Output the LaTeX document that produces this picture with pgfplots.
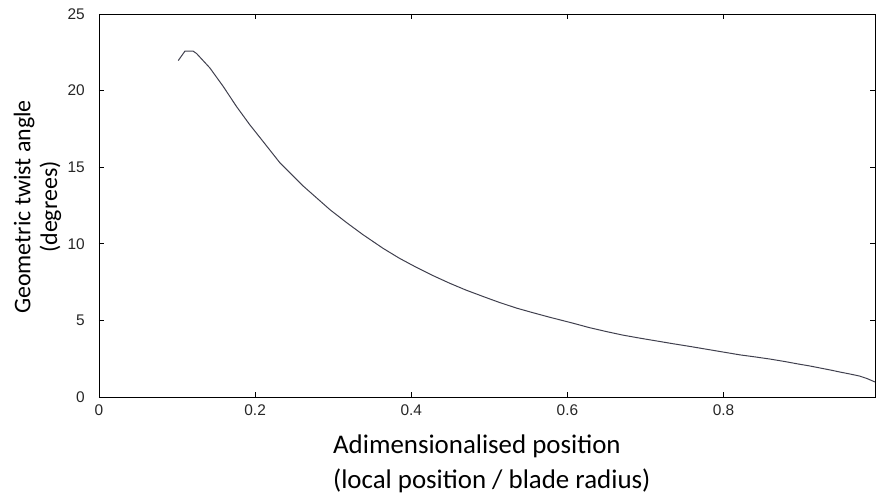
\documentclass[border=0pt]{standalone}
\usepackage{fontspec}
\setmainfont{Carlito}
\newfontfamily\arialfont{Liberation Sans}
\usepackage{pgfplots}
\pgfplotsset{compat=1.18}
\definecolor{curve}{HTML}{40404E}
\newcommand\tl[1]{\hbox{\arialfont\fontsize{15.5}{18}\selectfont #1}}
\begin{document}
\begin{tikzpicture}
\begin{axis}[
  at={(0,0)}, anchor=south west,
  scale only axis, width=776bp, height=383bp,
  xmin=0, xmax=0.994, ymin=0, ymax=25,
  xtick={0,0.2,0.4,0.6,0.8}, ytick={0,5,10,15,20,25},
  xticklabels={\tl{0},\tl{0.2},\tl{0.4},\tl{0.6},\tl{0.8}},
  yticklabels={\tl{0},\tl{5},\tl{10},\tl{15},\tl{20},\tl{25}},
  tick align=inside, major tick length=5bp,
  axis line style={line width=0.9bp},
  tick style={line width=0.7bp, black},
  every tick label/.append style={text=black!85, inner sep=0pt},
  xticklabel style={anchor=north, yshift=-8bp},
  yticklabel style={anchor=east, xshift=-14bp},
  xlabel={Adimensionalised position\\(local position / blade radius)},
  xlabel style={align=left, font=\fontsize{27}{35}\selectfont, inner sep=0pt,
    anchor=north west, at={(axis description cs:0.3015,-0.099)}},
  ylabel={Geometric twist angle\\(degrees)},
  ylabel style={align=center, font=\fontsize{24}{27}\selectfont, inner sep=0pt,
    anchor=center, rotate=0, at={(axis description cs:-0.0793,0.496)}},
]
\addplot[curve, line width=1bp] coordinates {
(0.1015,21.96) (0.110,22.57) (0.1207,22.57) (0.125,22.42) (0.142,21.48)
(0.159,20.28) (0.176,18.97) (0.193,17.78) (0.210,16.69) (0.232,15.27)
(0.262,13.75) (0.296,12.22) (0.318,11.35) (0.338,10.60) (0.364,9.70)
(0.385,9.05) (0.407,8.45) (0.428,7.92) (0.449,7.43) (0.470,6.98) (0.492,6.56)
(0.513,6.17) (0.535,5.80) (0.556,5.50) (0.577,5.21)
(0.607,4.82) (0.628,4.53) (0.650,4.27) (0.671,4.04) (0.693,3.84) (0.714,3.66)
(0.735,3.48) (0.757,3.30) (0.778,3.12)
(0.800,2.93) (0.821,2.75) (0.840,2.62) (0.859,2.48) (0.878,2.32) (0.895,2.16)
(0.910,2.03) (0.923,1.90) (0.937,1.76) (0.950,1.62) (0.962,1.50)
(0.974,1.37) (0.984,1.20) (0.994,0.98)
};
\end{axis}
\pgfresetboundingbox
\useasboundingbox (-99bp,-100bp) rectangle (777bp,397bp);
\end{tikzpicture}
\end{document}
